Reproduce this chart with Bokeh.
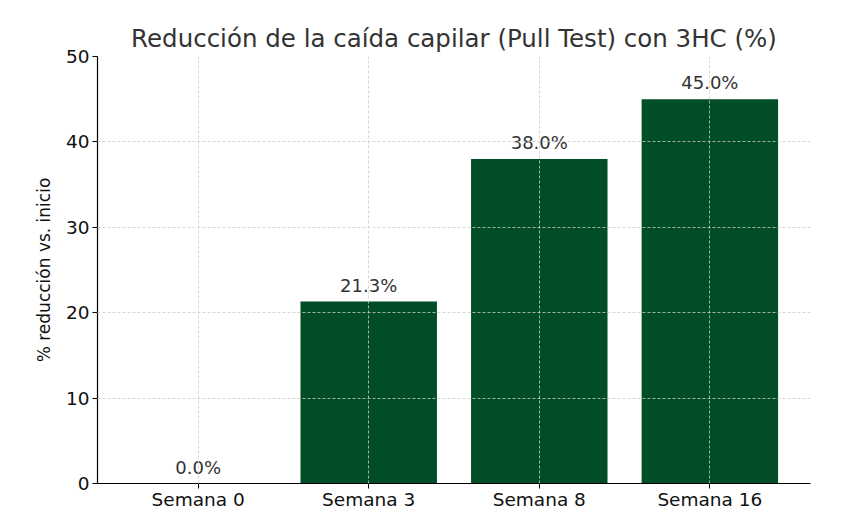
from bokeh.plotting import figure
from bokeh.models import Range1d, FixedTicker, ColumnDataSource
from bokeh.core.properties import value
from bokeh.embed import file_html
from bokeh.resources import INLINE

categories = ["Semana 0", "Semana 3", "Semana 8", "Semana 16"]
reduction = [0.0, 21.3, 38.0, 45.0]
y_ticks = [0, 10, 20, 30, 40, 50]

xs = list(range(len(categories)))
labels = [f"{v:.1f}%" for v in reduction]
src = ColumnDataSource(dict(x=xs, top=reduction, label=labels))

FONT = "DejaVu Sans"

p = figure(width=859, height=519, output_backend="svg", toolbar_location=None,
           x_range=Range1d(-0.59, len(categories) - 1 + 0.59), y_range=Range1d(0, 50),
           min_border_left=97, min_border_right=49, min_border_top=56, min_border_bottom=36,
           title="Reducción de la caída capilar (Pull Test) con 3HC (%)")

p.title.align = "center"
p.title.text_font = FONT
p.title.text_font_size = "24.5px"
p.title.text_font_style = "normal"
p.title.text_color = "#333333"
p.title.standoff = 8

p.vbar(x="x", top="top", bottom=0, width=0.8, source=src,
       fill_color="#014d26", line_color=None)

p.text(x="x", y="top", text="label", source=src, text_align="center",
       text_baseline="bottom", y_offset=-6, text_font=value(FONT),
       text_font_size="18px", text_color="#333333")

p.outline_line_color = None
p.background_fill_color = "white"

for ax in (p.xaxis[0], p.yaxis[0]):
    ax.axis_line_color = "black"
    ax.axis_line_width = 1.2
    ax.major_tick_line_color = "black"
    ax.major_tick_line_width = 1
    ax.major_tick_out = 5
    ax.major_tick_in = 0
    ax.minor_tick_line_color = None
    ax.major_label_text_font = FONT
    ax.major_label_text_font_size = "18.5px"
    ax.major_label_text_color = "#111111"

p.xaxis.major_label_standoff = 0
p.yaxis.major_label_standoff = 3

p.xaxis.ticker = FixedTicker(ticks=xs)
p.xaxis.major_label_overrides = {i: c for i, c in enumerate(categories)}
p.yaxis.ticker = FixedTicker(ticks=y_ticks)

p.yaxis.axis_label = "% reducción vs. inicio"
p.yaxis.axis_label_text_font = FONT
p.yaxis.axis_label_text_font_size = "17px"
p.yaxis.axis_label_text_font_style = "normal"
p.yaxis.axis_label_text_color = "#111111"
p.yaxis.axis_label_standoff = 9

for g in (p.xgrid[0], p.ygrid[0]):
    g.grid_line_color = "#cccccc"
    g.grid_line_dash = "3 2"
    g.grid_line_width = 0.8
    g.level = "annotation"
p.xgrid.ticker = FixedTicker(ticks=xs)
p.ygrid.ticker = FixedTicker(ticks=y_ticks)

open("out.html", "w").write(file_html(p, INLINE))
